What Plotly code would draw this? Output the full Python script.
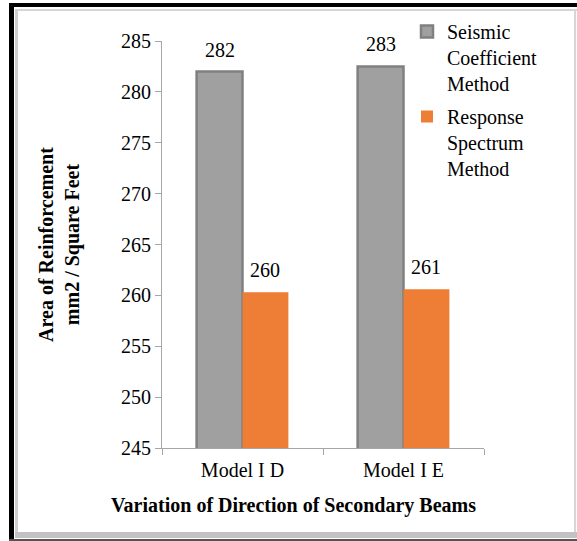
import plotly.graph_objects as go

# data
models = ["Model I D", "Model I E"]
seismic = [282.0, 282.5]
response = [260.3, 260.6]
seismic_labels = ["282", "283"]
response_labels = ["260", "261"]

W, H = 577, 541
L, R, T, B = 162, 93, 41, 93
PW, PH = W - L - R, H - T - B


def px(x):
    return (x - L) / PW


def py(y):
    return (H - B - y) / PH


def band(x0, y0, x1, y1, color):
    # filled rectangle given in page pixels
    return dict(type="rect", xref="paper", yref="paper", layer="above",
                x0=px(x0), x1=px(x1), y0=py(y1), y1=py(y0),
                fillcolor=color, line=dict(width=0))


font = "Liberation Serif"

fig = go.Figure()

fig.add_trace(go.Bar(
    x=models, y=seismic,
    name="Seismic<br>Coefficient<br>Method",
    legendgroup="a",
    marker=dict(color="#a0a0a0", line=dict(color="#808080", width=2.5)),
))
fig.add_trace(go.Bar(
    x=models, y=response,
    name="Response<br>Spectrum<br>Method",
    legendgroup="b",
    marker=dict(color="#ee7d36", line=dict(color="#ee7d36", width=0)),
))

# value labels above the bars
bar_w = 0.285
annotations = []
for i in range(len(models)):
    for off, vals, labs in ((-bar_w / 2, seismic, seismic_labels), (bar_w / 2, response, response_labels)):
        annotations.append(dict(
            x=i + off, y=vals[i], xref="x", yref="y", text=labs[i],
            showarrow=False, yanchor="bottom", yshift=9,
            font=dict(family=font, size=20, color="black"),
        ))

annotations.append(dict(
    x=px(293), y=py(505), xref="paper", yref="paper", xanchor="center", yanchor="middle",
    text="<b>Variation of Direction of Secondary Beams</b>",
    showarrow=False, font=dict(family=font, size=20, color="black"),
))

# outer frame: light inner border, black top/left edge
shapes = [
    band(16, 9, 577, 11, "#d6d6d6"),
    band(15, 9, 18, 536, "#d0d0d0"),
    band(574, 9, 576, 536, "#d6d6d6"),
    band(15, 532, 577, 538, "#c2c2c2"),
    band(9, 3, 577, 7, "black"),
    band(9, 3, 14, 541, "black"),
    band(9, 539, 577, 541, "#555555"),
]

fig.update_layout(
    width=W, height=H,
    margin=dict(l=L, r=R, t=T, b=B, autoexpand=False),
    paper_bgcolor="white", plot_bgcolor="white",
    barmode="group", bargap=0.43, bargroupgap=0,
    font=dict(family=font, size=20, color="black"),
    showlegend=True,
    legend=dict(
        x=px(407), y=py(12), xanchor="left", yanchor="top",
        font=dict(family=font, size=20, color="black"),
        tracegroupgap=4, valign="top", bgcolor="rgba(0,0,0,0)",
    ),
    annotations=annotations,
    shapes=shapes,
)

fig.update_yaxes(
    range=[245, 285], dtick=5, showgrid=False, zeroline=False,
    showline=True, linecolor="#a6a6a6", linewidth=1,
    ticks="outside", ticklen=6, tickcolor="#a6a6a6",
    tickfont=dict(family=font, size=20, color="black"),
    title=dict(text="<b>Area of Reinforcement<br>mm2 / Square Feet</b>", standoff=36,
               font=dict(family=font, size=20, color="black")),
)
fig.update_xaxes(
    showgrid=False, showline=True, linecolor="#a6a6a6", linewidth=1,
    ticks="outside", ticklen=6, tickcolor="#a6a6a6", tickson="boundaries",
    ticklabelstandoff=4,
    tickfont=dict(family=font, size=20, color="black"),
)

# the page body has a default 8px margin; remove it so the figure fills the window
fig.write_html("out.html", config={"displayModeBar": False},
               post_script="document.body.style.margin='0';")
